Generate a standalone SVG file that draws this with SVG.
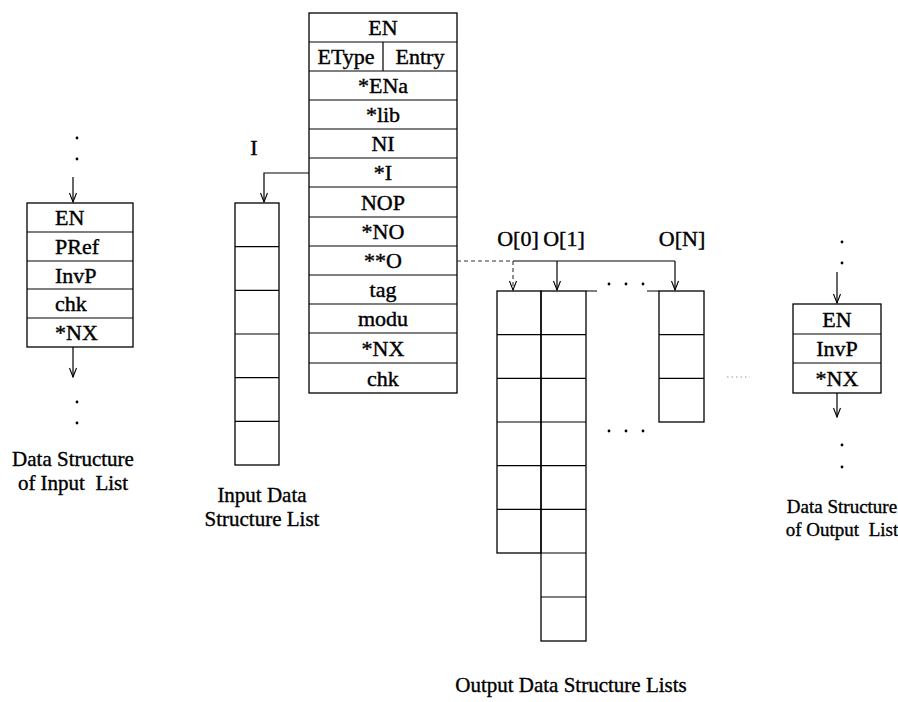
<svg xmlns="http://www.w3.org/2000/svg" width="898" height="702" viewBox="0 0 898 702">
<style>
.box{fill:none;stroke:#000;stroke-width:1.3}
.ln{fill:none;stroke:#000;stroke-width:1.2}
.dash{fill:none;stroke:#333;stroke-width:1.1;stroke-dasharray:4 3}
.t{font-family:"Liberation Serif","Times New Roman",serif;font-size:22px;fill:#000;stroke:#000;stroke-width:0.4;text-anchor:middle;dominant-baseline:central}
.tl{text-anchor:start}
.cap{font-family:"Liberation Serif","Times New Roman",serif;font-size:21px;fill:#000;stroke:#000;stroke-width:0.35;text-anchor:middle}
.capr{font-size:19px}
.dot{fill:#000}
</style>
<defs>
<marker id="ah" viewBox="-10 -5 12 10" refX="0" refY="0" markerWidth="12" markerHeight="10" markerUnits="userSpaceOnUse" orient="auto">
<path d="M-9,-3.5 L0,0 L-9,3.5" fill="none" stroke="#000" stroke-width="1.1"/>
</marker>
</defs>
<rect width="898" height="702" fill="#fff"/>

<g id="input-list-node">
<rect class="box" x="27" y="203" width="106" height="144"/>
<path class="ln" d="M27,232H133M27,261H133M27,289H133M27,318H133"/>
<text class="t tl" x="55" y="217.5">EN</text>
<text class="t tl" x="55" y="246.5">PRef</text>
<text class="t tl" x="55" y="275">InvP</text>
<text class="t tl" x="55" y="303.5">chk</text>
<text class="t tl" x="55" y="332.5">*NX</text>
<text class="cap" x="73" y="466">Data Structure</text>
<text class="cap" x="73" y="490" xml:space="preserve">of Input  List</text>
</g>

<g id="entry-table">
<rect class="box" x="309" y="13" width="148" height="380"/>
<path class="ln" d="M309,42H457M309,71H457M309,100H457M309,129H457M309,158H457M309,187H457M309,217H457M309,246H457M309,275H457M309,304H457M309,333H457M309,363H457M383,42V71"/>
<text class="t" x="383" y="27.5">EN</text>
<text class="t" x="346" y="56.5">EType</text>
<text class="t" x="420" y="56.5">Entry</text>
<text class="t" x="383" y="85.5">*ENa</text>
<text class="t" x="383" y="114.5">*lib</text>
<text class="t" x="383" y="143.5">NI</text>
<text class="t" x="383" y="172.5">*I</text>
<text class="t" x="383" y="202">NOP</text>
<text class="t" x="383" y="231.5">*NO</text>
<text class="t" x="383" y="260.5">**O</text>
<text class="t" x="383" y="289.5">tag</text>
<text class="t" x="383" y="318.5">modu</text>
<text class="t" x="383" y="348">*NX</text>
<text class="t" x="383" y="378">chk</text>
</g>

<g id="input-data-list">
<rect class="box" x="235" y="203" width="44" height="262"/>
<path class="ln" d="M235,246.7H279M235,290.3H279M235,334H279M235,377.7H279M235,421.3H279"/>
<text class="t" x="254" y="147">I</text>
<text class="cap" x="262" y="502">Input Data</text>
<text class="cap" x="262" y="526">Structure List</text>
</g>

<g id="output-list-0">
<rect class="box" x="497" y="291" width="44" height="262"/>
<path class="ln" d="M497,334.7H541M497,378.3H541M497,422H541M497,465.7H541M497,509.3H541"/>
<text class="t" x="518" y="238">O[0]</text>
</g>

<g id="output-list-1">
<rect class="box" x="541" y="291" width="45" height="350"/>
<path class="ln" d="M541,334.7H586M541,378.3H586M541,422H586M541,465.7H586M541,509.3H586M541,553H586M541,597H586"/>
<text class="t" x="564" y="238">O[1]</text>
</g>

<g id="output-list-n">
<rect class="box" x="659" y="291" width="45" height="131"/>
<path class="ln" d="M659,334.7H704M659,378.3H704"/>
<text class="t" x="682" y="238">O[N]</text>
<path class="ln" d="M586,291H597M647,291H659"/>
<circle class="dot" cx="609" cy="284" r="1.4"/>
<circle class="dot" cx="626" cy="284" r="1.4"/>
<circle class="dot" cx="643" cy="284" r="1.4"/>
<circle class="dot" cx="609" cy="431" r="1.4"/>
<circle class="dot" cx="626" cy="431" r="1.4"/>
<circle class="dot" cx="643" cy="431" r="1.4"/>
<text class="cap" x="571" y="692">Output Data Structure Lists</text>
</g>

<g id="output-list-node">
<rect class="box" x="793" y="304" width="88" height="89"/>
<path class="ln" d="M793,334H881M793,363H881"/>
<text class="t" x="837" y="319">EN</text>
<text class="t" x="837" y="348.5">InvP</text>
<text class="t" x="837" y="378">*NX</text>
<text class="cap capr" x="842" y="513">Data Structure</text>
<text class="cap capr" x="842" y="536" xml:space="preserve">of Output  List</text>
</g>

<g id="connectors">
<circle class="dot" cx="77" cy="138" r="1.4"/>
<circle class="dot" cx="77" cy="159" r="1.4"/>
<line class="ln" x1="73" y1="177" x2="73" y2="202" marker-end="url(#ah)"/>
<line class="ln" x1="73" y1="347" x2="73" y2="377" marker-end="url(#ah)"/>
<circle class="dot" cx="77" cy="402" r="1.4"/>
<circle class="dot" cx="77" cy="423" r="1.4"/>
<polyline class="ln" points="309,173 264,173 264,202" marker-end="url(#ah)"/>
<line class="dash" x1="457" y1="261" x2="513" y2="261"/>
<line class="ln" x1="513" y1="261" x2="675" y2="261"/>
<line class="dash" x1="513" y1="261" x2="513" y2="290" marker-end="url(#ah)"/>
<line class="ln" x1="557" y1="261" x2="557" y2="290" marker-end="url(#ah)"/>
<line class="ln" x1="675" y1="261" x2="675" y2="290" marker-end="url(#ah)"/>
<circle class="dot" cx="842" cy="242" r="1.4"/>
<circle class="dot" cx="842" cy="263" r="1.4"/>
<line class="ln" x1="837" y1="272" x2="837" y2="303" marker-end="url(#ah)"/>
<line class="ln" x1="837" y1="393" x2="837" y2="417" marker-end="url(#ah)"/>
<circle class="dot" cx="842" cy="445" r="1.4"/>
<circle class="dot" cx="842" cy="467" r="1.4"/>
<line x1="727" y1="377" x2="750" y2="377" stroke="#999" stroke-width="1" stroke-dasharray="1.5 3"/>
</g>
</svg>
